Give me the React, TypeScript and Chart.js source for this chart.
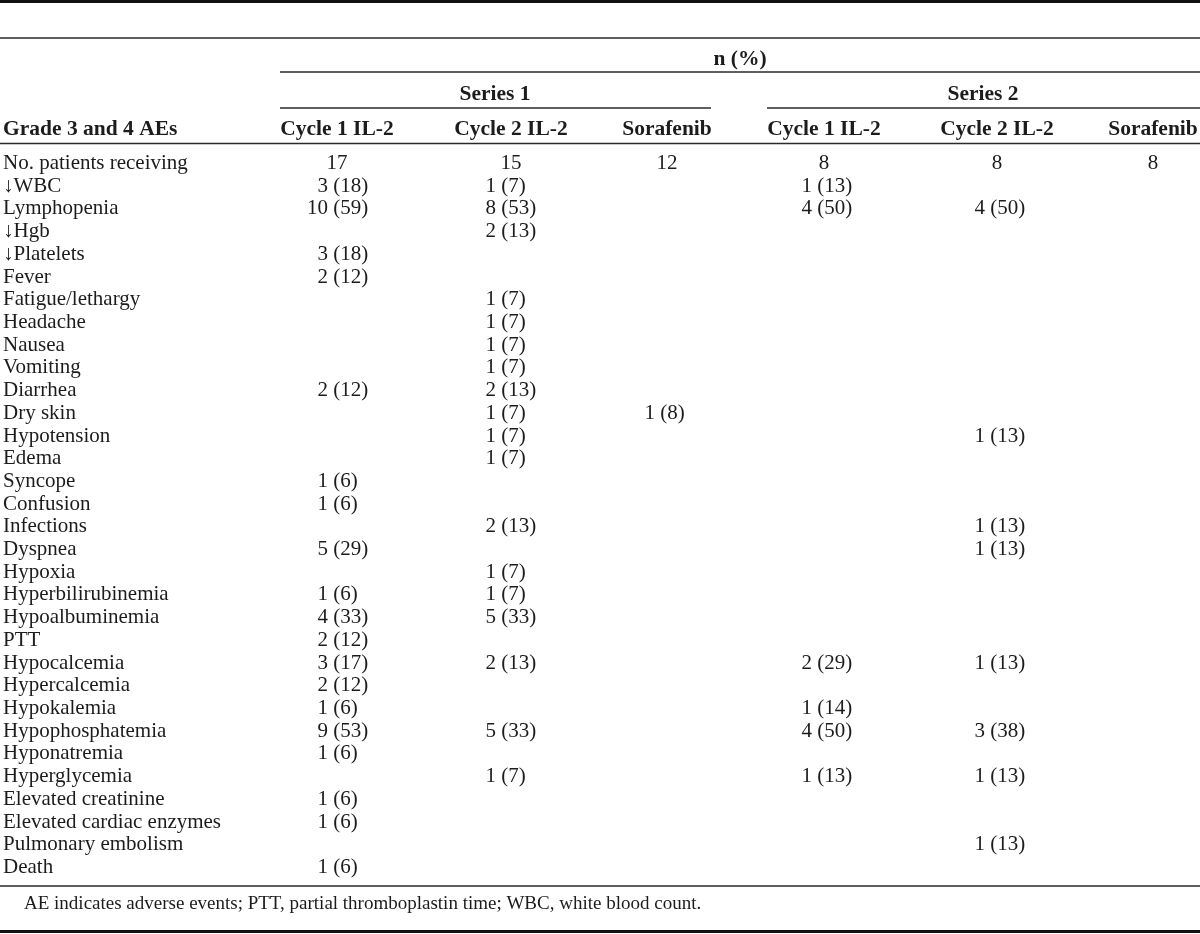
import React, { useEffect, useRef } from "react";
import { Chart, registerables } from "chart.js";

Chart.register(...registerables);

// ---------- DATA ----------
const ROWS = [
  "No. patients receiving",
  "\u2193WBC",
  "Lymphopenia",
  "\u2193Hgb",
  "\u2193Platelets",
  "Fever",
  "Fatigue/lethargy",
  "Headache",
  "Nausea",
  "Vomiting",
  "Diarrhea",
  "Dry skin",
  "Hypotension",
  "Edema",
  "Syncope",
  "Confusion",
  "Infections",
  "Dyspnea",
  "Hypoxia",
  "Hyperbilirubinemia",
  "Hypoalbuminemia",
  "PTT",
  "Hypocalcemia",
  "Hypercalcemia",
  "Hypokalemia",
  "Hypophosphatemia",
  "Hyponatremia",
  "Hyperglycemia",
  "Elevated creatinine",
  "Elevated cardiac enzymes",
  "Pulmonary embolism",
  "Death",
];

const COLUMN_LABELS = ["Cycle 1 IL-2", "Cycle 2 IL-2", "Sorafenib", "Cycle 1 IL-2", "Cycle 2 IL-2", "Sorafenib"];
const SERIES_LABELS = ["Series 1", "Series 2"];
const SPANNER_LABEL = "n (%)";
const STUB_LABEL = "Grade 3 and 4 AEs";
const FOOTNOTE = "AE indicates adverse events; PTT, partial thromboplastin time; WBC, white blood count.";

const S1_CYCLE1_N = [17, 3, 10, null, 3, 2, null, null, null, null, 2, null, null, null, 1, 1, null, 5, null, 1, 4, 2, 3, 2, 1, 9, 1, null, 1, 1, null, 1];
const S1_CYCLE1_PCT = [null, 18, 59, null, 18, 12, null, null, null, null, 12, null, null, null, 6, 6, null, 29, null, 6, 33, 12, 17, 12, 6, 53, 6, null, 6, 6, null, 6];

const S1_CYCLE2_N = [15, 1, 8, 2, null, null, 1, 1, 1, 1, 2, 1, 1, 1, null, null, 2, null, 1, 1, 5, null, 2, null, null, 5, null, 1, null, null, null, null];
const S1_CYCLE2_PCT = [null, 7, 53, 13, null, null, 7, 7, 7, 7, 13, 7, 7, 7, null, null, 13, null, 7, 7, 33, null, 13, null, null, 33, null, 7, null, null, null, null];

const S1_SORAF_N = [12, null, null, null, null, null, null, null, null, null, null, 1, null, null, null, null, null, null, null, null, null, null, null, null, null, null, null, null, null, null, null, null];
const S1_SORAF_PCT = [null, null, null, null, null, null, null, null, null, null, null, 8, null, null, null, null, null, null, null, null, null, null, null, null, null, null, null, null, null, null, null, null];

const S2_CYCLE1_N = [8, 1, 4, null, null, null, null, null, null, null, null, null, null, null, null, null, null, null, null, null, null, null, 2, null, 1, 4, null, 1, null, null, null, null];
const S2_CYCLE1_PCT = [null, 13, 50, null, null, null, null, null, null, null, null, null, null, null, null, null, null, null, null, null, null, null, 29, null, 14, 50, null, 13, null, null, null, null];

const S2_CYCLE2_N = [8, null, 4, null, null, null, null, null, null, null, null, null, 1, null, null, null, 1, 1, null, null, null, null, 1, null, null, 3, null, 1, null, null, 1, null];
const S2_CYCLE2_PCT = [null, null, 50, null, null, null, null, null, null, null, null, null, 13, null, null, null, 13, 13, null, null, null, null, 13, null, null, 38, null, 13, null, null, 13, null];

const S2_SORAF_N = [8, null, null, null, null, null, null, null, null, null, null, null, null, null, null, null, null, null, null, null, null, null, null, null, null, null, null, null, null, null, null, null];
const S2_SORAF_PCT = [null, null, null, null, null, null, null, null, null, null, null, null, null, null, null, null, null, null, null, null, null, null, null, null, null, null, null, null, null, null, null, null];

const COLUMNS_N = [S1_CYCLE1_N, S1_CYCLE2_N, S1_SORAF_N, S2_CYCLE1_N, S2_CYCLE2_N, S2_SORAF_N];
const COLUMNS_PCT = [S1_CYCLE1_PCT, S1_CYCLE2_PCT, S1_SORAF_PCT, S2_CYCLE1_PCT, S2_CYCLE2_PCT, S2_SORAF_PCT];

// ---------- LAYOUT / STYLE ----------
const W = 1200;
const H = 934;
const COL_CENTERS = [337, 511, 667, 824, 997, 1153];
const ANCHOR_DX = [-9, -15, -12, -12, -12, -12];
const FONT = '"Liberation Serif", "Times New Roman", serif';
const TEXT = "#1c1c1c";
const LINE = "#2a2a2a";

const tablePlugin = {
  id: "tablePlugin",
  afterDatasetsDraw(chart: any) {
    const ctx = chart.ctx;
    const yScale = chart.scales.y;
    ctx.save();
    ctx.fillStyle = TEXT;
    ctx.textBaseline = "alphabetic";

    // row labels via y scale
    ctx.font = `21px ${FONT}`;
    ctx.textAlign = "left";
    ROWS.forEach((r) => {
      const y = yScale.getPixelForValue(yScale.parse(r));
      ctx.fillText(r, 3, y + 7);
    });

    // cells
    chart.data.datasets.forEach((ds: any, di: number) => {
      const meta = chart.getDatasetMeta(di);
      meta.data.forEach((el: any, pi: number) => {
        const raw = ds.data[pi];
        const x = el.x;
        const y = el.y + 7;
        if (raw.pct == null) {
          ctx.textAlign = "center";
          ctx.fillText(String(raw.n), x, y);
        } else {
          const ax = x + ANCHOR_DX[di];
          ctx.textAlign = "right";
          ctx.fillText(String(raw.n), ax, y);
          ctx.textAlign = "left";
          ctx.fillText(` (${raw.pct})`, ax, y);
        }
      });
    });

    // headers
    ctx.font = `bold 21.5px ${FONT}`;
    ctx.textAlign = "center";
    ctx.fillText(SPANNER_LABEL, 740, 65);
    ctx.fillText(SERIES_LABELS[0], 495, 100);
    ctx.fillText(SERIES_LABELS[1], 983, 100);
    COLUMN_LABELS.forEach((c, i) => ctx.fillText(c, COL_CENTERS[i], 135));
    ctx.textAlign = "left";
    ctx.fillText(STUB_LABEL, 3, 135);

    // footnote
    ctx.font = `19px ${FONT}`;
    ctx.fillText(FOOTNOTE, 24, 909);

    // rules
    const hline = (x1: number, x2: number, y: number, w: number, c: string) => {
      ctx.beginPath();
      ctx.strokeStyle = c;
      ctx.lineWidth = w;
      ctx.moveTo(x1, y);
      ctx.lineTo(x2, y);
      ctx.stroke();
    };
    hline(0, W, 1.5, 3, "#111");
    hline(0, W, 38, 1.5, LINE);
    hline(280, W, 72, 1.5, LINE);
    hline(280, 711, 108, 1.5, LINE);
    hline(767, W, 108, 1.5, LINE);
    hline(0, W, 143.5, 1.5, LINE);
    hline(0, W, 886, 1.5, LINE);
    hline(0, W, 931.5, 3, "#111");
    ctx.restore();
  },
};

export default function App() {
  const ref = useRef<HTMLCanvasElement | null>(null);
  useEffect(() => {
    document.body.style.margin = "0";
    const datasets = COLUMNS_N.map((col, c) => ({
      label: COLUMN_LABELS[c],
      data: col
        .map((n, r) => (n == null ? null : { x: COL_CENTERS[c], y: ROWS[r], n, pct: COLUMNS_PCT[c][r] }))
        .filter((d) => d != null),
      pointRadius: 0,
      pointHoverRadius: 0,
      showLine: false,
    }));
    const chart = new Chart(ref.current as HTMLCanvasElement, {
      type: "scatter",
      data: { datasets } as any,
      options: {
        animation: false,
        responsive: false,
        events: [],
        layout: { padding: { top: 150.6, bottom: 56.6, left: 0, right: 0 } },
        scales: {
          x: { type: "linear", min: 0, max: W, display: false },
          y: { type: "category", labels: ROWS, offset: true, display: false },
        },
        plugins: { legend: { display: false }, tooltip: { enabled: false } },
      },
      plugins: [tablePlugin],
    } as any);
    return () => chart.destroy();
  }, []);
  return (
    <div style={{ position: "absolute", left: 0, top: 0, width: W, height: H, background: "#fff" }}>
      <canvas ref={ref} width={W} height={H} style={{ width: W, height: H, display: "block" }} />
    </div>
  );
}
